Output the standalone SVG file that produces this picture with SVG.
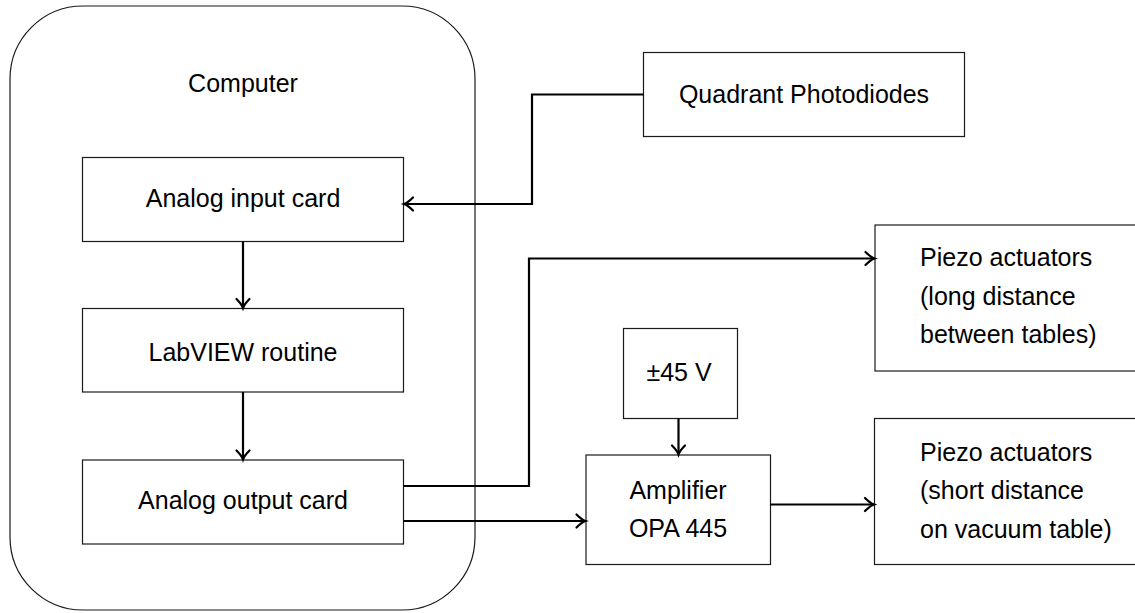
<svg xmlns="http://www.w3.org/2000/svg" width="1135" height="613" viewBox="0 0 1135 613">
<defs>
<style>
.box{fill:#fff;stroke:#1a1a1a;stroke-width:1.2}
.t{font-family:"Liberation Sans",Arial,sans-serif;font-size:25px;fill:#000}
.c{text-anchor:middle}
.w{fill:none;stroke:#000;stroke-width:2.2}
</style>
<marker id="ar" markerUnits="userSpaceOnUse" viewBox="-12 -8 14 16" refX="0" refY="0" markerWidth="14" markerHeight="16" orient="auto" overflow="visible">
<path d="M -9 -6.5 C -6 -3.5 -3 -1 0 0 C -3 1 -6 3.5 -9 6.5" fill="none" stroke="#000" stroke-width="2.2" stroke-linecap="round"/>
</marker>
</defs>
<rect width="1135" height="613" fill="#fff"/>
<g id="computer">
<rect class="box" x="10" y="6" width="465" height="604" rx="73" ry="73"/>
<text class="t c" x="243" y="92">Computer</text>
</g>
<g id="analog-input">
<rect class="box" x="82.5" y="157.5" width="321" height="84"/>
<text class="t c" x="243" y="207">Analog input card</text>
</g>
<g id="labview">
<rect class="box" x="82.5" y="308.5" width="321" height="83.5"/>
<text class="t c" x="243" y="361">LabVIEW routine</text>
</g>
<g id="analog-output">
<rect class="box" x="82.5" y="460" width="321" height="84"/>
<text class="t c" x="243" y="508.5">Analog output card</text>
</g>
<g id="quadrant">
<rect class="box" x="643.5" y="52.5" width="321" height="84"/>
<text class="t c" x="804" y="103">Quadrant Photodiodes</text>
</g>
<g id="supply">
<rect class="box" x="623.5" y="328.5" width="114" height="90"/>
<text class="t c" x="679" y="381">±45 V</text>
</g>
<g id="amplifier">
<rect class="box" x="586" y="455" width="184.5" height="109.5"/>
<text class="t c" x="678" y="499">Amplifier</text>
<text class="t c" x="678" y="537">OPA 445</text>
</g>
<g id="piezo-long">
<rect class="box" x="875" y="225" width="262" height="146"/>
<text class="t" x="920" y="266">Piezo actuators</text>
<text class="t" x="920" y="304.5">(long distance</text>
<text class="t" x="920" y="343">between tables)</text>
</g>
<g id="piezo-short">
<rect class="box" x="874.5" y="418.5" width="262" height="146"/>
<text class="t" x="920" y="460.5">Piezo actuators</text>
<text class="t" x="920" y="499">(short distance</text>
<text class="t" x="920" y="537.5">on vacuum table)</text>
</g>
<g id="connectors">
<path class="w" d="M 643.5 94.5 H 532 V 204 H 404" marker-end="url(#ar)"/>
<path class="w" d="M 243 241.5 V 308" marker-end="url(#ar)"/>
<path class="w" d="M 243 392 V 459.5" marker-end="url(#ar)"/>
<path class="w" d="M 403.5 486 H 529 V 258.5 H 874.5" marker-end="url(#ar)"/>
<path class="w" d="M 403.5 521 H 585.5" marker-end="url(#ar)"/>
<path class="w" d="M 678.5 418.5 V 454.5" marker-end="url(#ar)"/>
<path class="w" d="M 770.5 504.5 H 874" marker-end="url(#ar)"/>
</g>
</svg>
